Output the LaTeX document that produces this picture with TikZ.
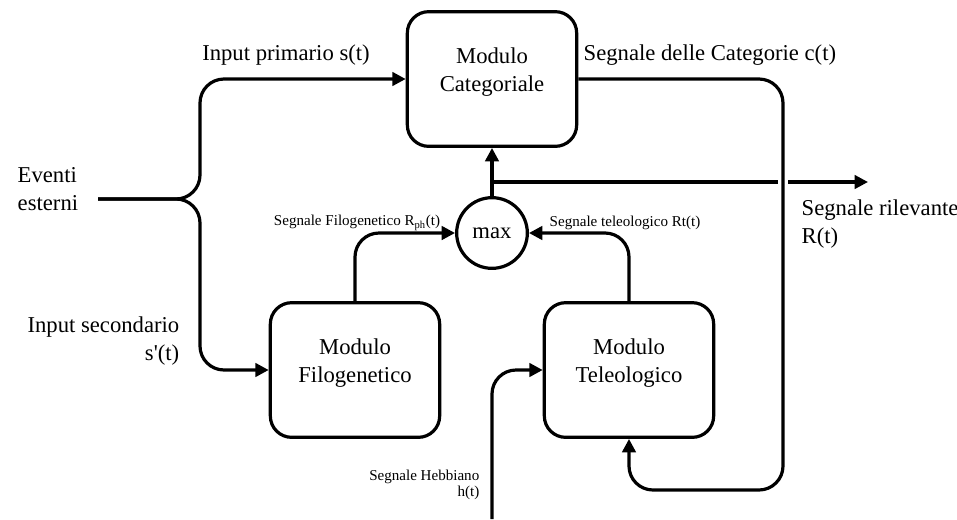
\documentclass[tikz,border=0pt]{standalone}
\usepackage{fontspec}
\setmainfont{Liberation Serif}[Ligatures=TeXOff]
\usetikzlibrary{arrows.meta, positioning, calc}

\tikzset{
  modulo/.style={draw, line width=2.4pt, rounded corners=16pt, minimum width=127pt, minimum height=101pt, align=center, text depth=14pt, font=\fontsize{17}{20.5}\selectfont},
  collegamento/.style={draw, line width=2.4pt, rounded corners=18pt, -{Triangle[length=10pt, width=10pt]}},
  etichetta/.style={font=\fontsize{17}{20.5}\selectfont, align=left},
  piccola/.style={font=\fontsize{11.3}{12.5}\selectfont, align=left}
}

\begin{document}
\begin{tikzpicture}[x=0.75pt, y=-0.75pt]
        \useasboundingbox (0,0) rectangle (957,519);

        % Moduli
        \node[modulo] (cat) at (492,79) {Modulo\\Categoriale};
        \node[modulo] (filo) at (355,370) {Modulo\\Filogenetico};
        \node[modulo] (teleo) at (629,370) {Modulo\\Teleologico};
        \node[draw, circle, line width=2.4pt, minimum size=53pt, inner sep=0pt, font=\fontsize{17}{20}\selectfont] (maxop) at (492,233) {max};

        % Eventi esterni
        \node[etichetta, anchor=west] (eventi) at (13,189) {Eventi\\esterni};
        \coordinate (evout) at (98,199);
        \coordinate (bivio) at (200,199);
        \draw[collegamento] (evout) -- (bivio) |- (cat.west);
        \draw[collegamento] (evout) -- (bivio) |- (filo.west);
        \node[etichetta] (sprim) at (286,55) {Input primario s(t)};
        \node[etichetta, align=right, anchor=east] (ssec) at (184,341) {Input secondario\\s'(t)};

        % Verso il max
        \draw[collegamento] (filo.north) |- (maxop.west);
        \draw[collegamento] (teleo.north) |- (maxop.east);
        \node[piccola] (rph) at (357,223) {Segnale Filogenetico R\textsubscript{ph}(t)};
        \node[piccola] (rt) at (625,223) {Segnale teleologico Rt(t)};
        \draw[collegamento] (maxop.north) -- (cat.south);

        % Segnale rilevante
        \coordinate (tap) at (492,182);
        \coordinate (relout) at (868,182);
        \coordinate (giro) at (783,490);
        \draw[collegamento, -, shorten >=4pt] (tap) -- (tap -| giro);
        \draw[collegamento, shorten <=4pt] (tap -| giro) -- (relout);
        \node[etichetta, anchor=west] (rilev) at (797,224) {Segnale rilevante\\R(t)};

        % Segnale delle Categorie
        \draw[collegamento] (cat.east) -| (giro) -| (teleo.south);
        \node[etichetta, anchor=west] (scat) at (579,55) {Segnale delle Categorie c(t)};

        % Segnale Hebbiano
        \coordinate (hebin) at (492,519);
        \draw[collegamento] (hebin) |- (teleo.west);
        \node[piccola, align=right, anchor=east] (heb) at (484,485) {Segnale Hebbiano\\h(t)};
    \end{tikzpicture}
\end{document}
